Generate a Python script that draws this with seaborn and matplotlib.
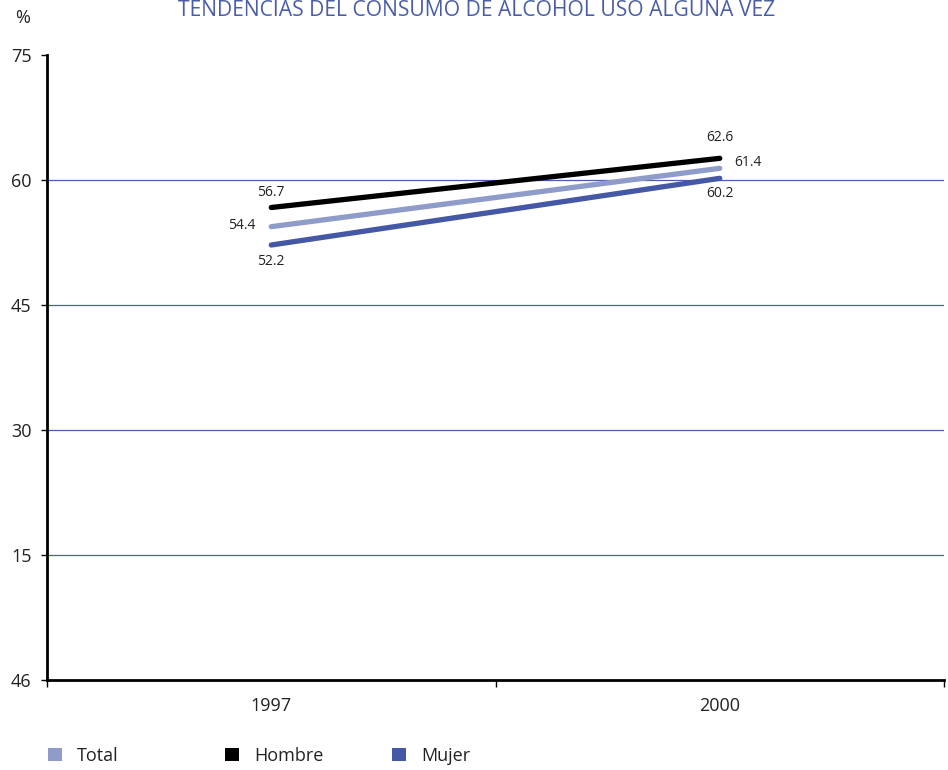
import matplotlib
matplotlib.use("Agg")
import matplotlib.pyplot as plt
from matplotlib.patches import Patch
import seaborn as sns
import pandas as pd

# Data
years = ["1997", "2000"]
series = ["Total", "Hombre", "Mujer"]
total = [54.4, 61.4]
hombre = [56.7, 62.6]
mujer = [52.2, 60.2]
y_ticks = [0, 15, 30, 45, 60, 75]
y_tick_labels = ["46", "15", "30", "45", "60", "75"]
title = "TENDENCIAS DEL CONSUMO DE ALCOHOL USO ALGUNA VEZ"

colors = {"Total": "#8f9cc9", "Hombre": "#000000", "Mujer": "#4458a5"}
grid_color = "#4a5ea8"

sns.set_theme(style="white")
plt.rcParams["font.family"] = ["Open Sans", "DejaVu Sans"]

rows = []
for name, vals in zip(series, [total, hombre, mujer]):
    for i, (yr, v) in enumerate(zip(years, vals)):
        rows.append({"pos": i, "year": yr, "serie": name, "valor": v})
df = pd.DataFrame(rows)

fig = plt.figure(figsize=(9.48, 7.70), dpi=100)
ax = fig.add_axes([47 / 948, 90 / 770, (944 - 47) / 948, (680 - 55) / 770])

for y in y_ticks[1:-1]:
    ax.axhline(y, color=grid_color, lw=0.9, zorder=0)

sns.lineplot(data=df, x="pos", y="valor", hue="serie", hue_order=series,
             palette=colors, linewidth=3.8, sort=False, legend=False, ax=ax,
             solid_capstyle="round")

ax.set_xlim(-0.5, 1.5)
ax.set_ylim(0, 75)
ax.set_yticks(y_ticks)
ax.set_yticklabels(y_tick_labels)
ax.set_xticks([0, 1])
ax.set_xticklabels(years)
ax.set_xticks([-0.5, 0.5, 1.5], minor=True)
ax.tick_params(axis="x", which="major", length=0, pad=12, labelsize=13, colors="#222222")
ax.tick_params(axis="x", which="minor", length=5, width=1, color="black", direction="out", bottom=True)
ax.tick_params(axis="y", which="major", length=4, width=1, color="black", direction="out",
               left=True, pad=7, labelsize=13, labelcolor="#222222")
ax.set_xlabel("")
ax.set_ylabel("")
for side in ["top", "right"]:
    ax.spines[side].set_visible(False)
for side in ["left", "bottom"]:
    ax.spines[side].set_color("black")
    ax.spines[side].set_linewidth(2)

# Value labels
offsets = {
    "Hombre": [(0, 11), (0, 15)],
    "Total": [(-21, 1), (20, 4)],
    "Mujer": [(0, -12), (0, -11)],
}
for name, vals in zip(series, [total, hombre, mujer]):
    for i, v in enumerate(vals):
        dx, dy = offsets[name][i]
        ax.annotate(f"{v:.1f}", xy=(i, v), xytext=(dx, dy), textcoords="offset points",
                    ha="center", va="center", fontsize=10, color="#222222")

fig.text(15 / 948, 1 - 18 / 770, "%", ha="left", va="center", fontsize=13, color="#222222")
fig.text(477 / 948, 1.0, title, ha="center", va="top", fontsize=15.2, color=grid_color)

# Legend entries laid out in fixed columns
legend_x = [48, 225, 392]
for name, x in zip(series, legend_x):
    fig.legend(handles=[Patch(facecolor=colors[name], edgecolor="none", label=name)],
               loc="center left", bbox_to_anchor=(x / 948, 1 - 756 / 770),
               frameon=False, fontsize=13, handlelength=0.75, handleheight=0.75,
               handletextpad=0.85, borderaxespad=0, borderpad=0, labelcolor="#222222")

fig.savefig("out.png", dpi=100)
